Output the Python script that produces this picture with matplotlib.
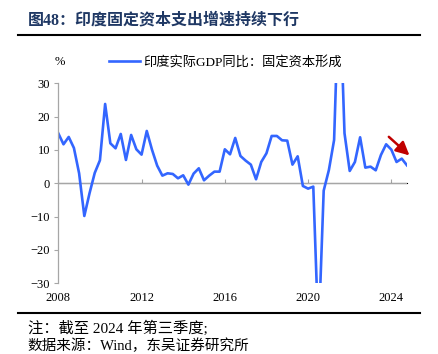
import matplotlib
matplotlib.use('Agg')
import numpy as np
import matplotlib.pyplot as plt

# quarterly data, quarter-end positions: 2007Q4 .. 2024Q3
start_year = 2008.0
gfcf_yoy = [
    15.0, 11.7, 13.9, 10.6, 3.0, -9.8, -3.0, 3.1,
    6.9, 23.8, 12.0, 10.5, 14.8, 7.0, 14.5, 10.2,
    8.6, 15.7, 10.1, 5.3, 2.3, 3.0, 2.8, 1.5,
    2.4, -0.4, 2.9, 4.5, 0.9, 2.3, 3.5, 3.5,
    10.2, 8.7, 13.6, 8.2, 6.8, 5.6, 1.2, 6.4,
    9.0, 14.2, 14.2, 12.9, 12.8, 5.6, 8.1, -0.8,
    -1.6, -1.0, -46.0, -2.2, 4.0, 13.0, 62.0, 15.0,
    3.7, 6.4, 13.8, 4.7, 5.0, 3.9, 8.5, 11.7,
    10.1, 6.4, 7.4, 5.4,
]
xticks = [2008, 2012, 2016, 2020, 2024]
yticks = [-30, -20, -10, 0, 10, 20, 30]

title = '图48：印度固定资本支出增速持续下行'
legend_label = '印度实际GDP同比：固定资本形成'
note = '注：截至 2024 年第三季度;'
source = '数据来源：Wind，东吴证券研究所'

arrow_from = (2023.78, 14.5)
arrow_to = (2024.97, 7.8)

fonts = ['Liberation Serif', 'Noto Sans CJK SC', 'DejaVu Sans']
plt.rcParams['font.family'] = fonts

x = start_year + 0.25 * np.arange(len(gfcf_yoy))

fig = plt.figure(figsize=(4.39, 3.54), dpi=100)
ax = fig.add_axes([0.1328, 0.1997, 0.927 - 0.1328, 0.7647 - 0.1997])

line, = ax.plot(x, gfcf_yoy, color='#3366FF', lw=1.9, label=legend_label)
ax.set_xlim(start_year, x[-1])
ax.set_ylim(-30, 30)

ax.axhline(0, color='#A6A6A6', lw=0.9, zorder=1)
for s in ['top', 'right', 'bottom']:
    ax.spines[s].set_visible(False)
ax.spines['left'].set_color('#A6A6A6')
ax.spines['left'].set_linewidth(0.9)

ax.set_yticks(yticks)
ax.set_xticks(xticks)
ax.tick_params(axis='y', colors='#A6A6A6', labelcolor='black', length=3,
               width=0.8, labelsize=9, pad=3)
ax.tick_params(axis='x', length=0, labelsize=9, pad=6)

# small ticks sitting on the zero line
sec = ax.secondary_xaxis(0.5)
sec.set_xticks(xticks)
sec.set_xticklabels([])
sec.spines['bottom'].set_visible(False)
sec.tick_params(length=3, width=0.8, colors='#A6A6A6')

ax.annotate('', xy=arrow_to, xytext=arrow_from, annotation_clip=False,
            arrowprops=dict(arrowstyle='-|>,head_length=0.8,head_width=0.4',
                            color='#C00000', lw=1.8))

fig.legend(handles=[line], loc='center left', bbox_to_anchor=(0.222, 0.825),
           frameon=False, fontsize=9.5, handlelength=2.3, handletextpad=0.3)
fig.text(0.125, 0.825, '%', fontsize=9, ha='left', va='center')

fig.text(0.063, 0.943, title, fontsize=11.5, fontweight='bold',
         color='#1F3864', ha='left', va='center')
fig.add_artist(plt.Line2D([0.041, 0.957], [0.901, 0.901], color='black', lw=1.5))
fig.add_artist(plt.Line2D([0.041, 0.957], [0.116, 0.116], color='black', lw=1.5))
fig.text(0.063, 0.073, note, fontsize=11, ha='left', va='center')
fig.text(0.063, 0.022, source, fontsize=10.5, ha='left', va='center')

fig.savefig('out.png', dpi=100)
